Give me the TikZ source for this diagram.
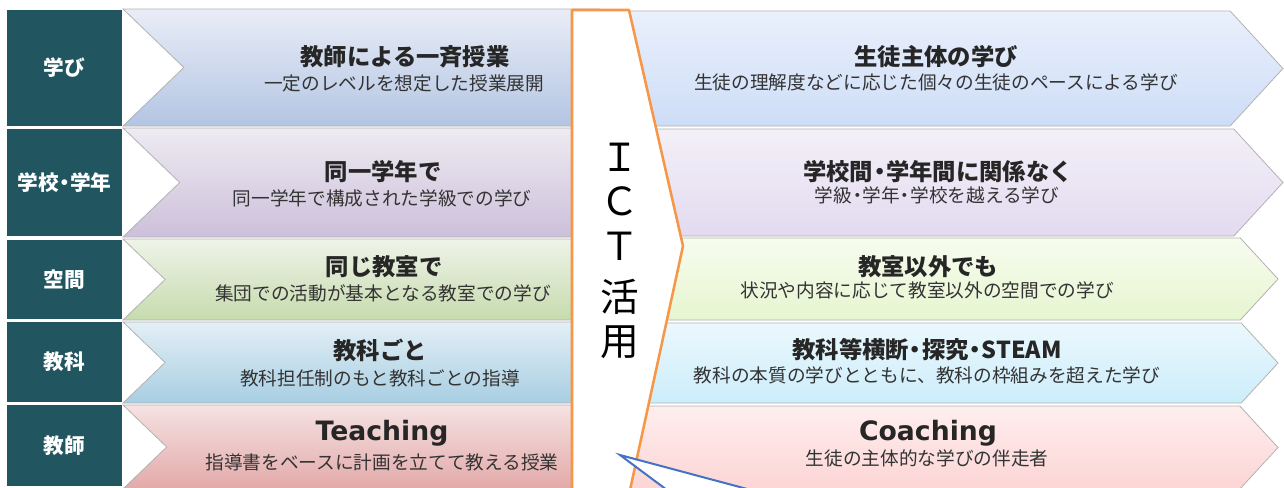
\documentclass[tikz,border=0pt]{standalone}
\usepackage{fontspec}
\usepackage{tikz}
\setmainfont{Noto Sans CJK JP}
\newfontfamily\latinfont{DejaVu Sans}
\newcommand{\nakadot}{\kern-0.22em・\kern-0.22em}
\definecolor{labelteal}{RGB}{33,86,97}
\definecolor{ictorange}{RGB}{247,150,70}
\definecolor{tailblue}{RGB}{68,114,196}
\definecolor{lonetop}{RGB}{233,237,247}
\definecolor{lonebot}{RGB}{179,197,227}
\definecolor{ltwotop}{RGB}{238,235,242}
\definecolor{ltwobot}{RGB}{204,192,218}
\definecolor{lthreetop}{RGB}{239,243,232}
\definecolor{lthreebot}{RGB}{198,219,174}
\definecolor{lfourtop}{RGB}{227,239,246}
\definecolor{lfourbot}{RGB}{168,206,226}
\definecolor{lfivetop}{RGB}{245,226,226}
\definecolor{lfivebot}{RGB}{227,169,169}
\definecolor{ronetop}{RGB}{234,240,252}
\definecolor{ronebot}{RGB}{205,221,247}
\definecolor{rtwotop}{RGB}{243,240,248}
\definecolor{rtwobot}{RGB}{227,218,240}
\definecolor{rthreetop}{RGB}{247,252,238}
\definecolor{rthreebot}{RGB}{230,245,208}
\definecolor{rfourtop}{RGB}{235,248,253}
\definecolor{rfourbot}{RGB}{204,237,251}
\definecolor{rfivetop}{RGB}{254,238,238}
\definecolor{rfivebot}{RGB}{253,213,213}
\tikzstyle{rowbox}=[fill=labelteal, text=white, inner sep=0pt, minimum width=86.25pt, font=\fontsize{15.5}{18}\selectfont\bfseries]
\tikzstyle{chevron}=[draw=black!30, line width=0.6pt]
\tikzstyle{headtext}=[text=black!85, inner sep=0pt, font=\fontsize{17.5}{20}\selectfont\bfseries]
\tikzstyle{latinhead}=[text=black!85, inner sep=0pt, font=\fontsize{20}{22}\selectfont\latinfont\bfseries]
\tikzstyle{subtext}=[text=black!80, inner sep=0pt, font=\fontsize{14}{16}\selectfont]
\tikzstyle{ictchar}=[text=black, inner sep=0pt, font=\fontsize{29}{30}\selectfont]

\begin{document}
\begin{tikzpicture}[x=0.75pt, y=-0.75pt]
		   \useasboundingbox (0,0) rectangle (1284,487);
		   \begin{scope}
			   \node (lab1) at (64.5, 68)[rowbox, minimum height=87pt] {学び};
			   \node (lab2) at (64.5, 182.5)[rowbox, minimum height=80.25pt] {学校\nakadot 学年};
			   \node (lab3) at (64.5, 279.5)[rowbox, minimum height=59.25pt] {空間};
			   \node (lab4) at (64.5, 362)[rowbox, minimum height=60pt] {教科};
			   \node (lab5) at (64.5, 445.5)[rowbox, minimum height=60.75pt] {教師};
		   \end{scope}
		   \begin{scope}
			   \foreach \t/\b/\tc/\bc in {9/126/lonetop/lonebot, 128/237/ltwotop/ltwobot, 239/320/lthreetop/lthreebot, 322/403/lfourtop/lfourbot, 405/489/lfivetop/lfivebot}
				   \path[chevron, top color=\tc, bottom color=\bc] (123,\t) -- ({123+0.52*(\b-\t)},{(\t+\b)/2}) -- (123,\b) -- (600,\b) -- (600,\t) -- cycle;
			   \foreach \t/\b/\tip/\tc/\bc in {11/126/1283/ronetop/ronebot, 129/236/1283/rtwotop/rtwobot, 238/320/1278/rthreetop/rthreebot, 323/403/1278/rfourtop/rfourbot, 406/489/1278/rfivetop/rfivebot}
				   \path[chevron, top color=\tc, bottom color=\bc] (600,\t) -- ({\tip-0.46*(\b-\t)},\t) -- (\tip,{(\t+\b)/2}) -- ({\tip-0.46*(\b-\t)},\b) -- (600,\b) -- cycle;
		   \end{scope}
		   \begin{scope}
			   \node (lt1) at (405, 57)[headtext] {教師による一斉授業};
			   \node (ls1) at (404, 83)[subtext] {一定のレベルを想定した授業展開};
			   \node (lt2) at (383, 172)[headtext] {同一学年で};
			   \node (ls2) at (382, 198)[subtext] {同一学年で構成された学級での学び};
			   \node (lt3) at (384, 267)[headtext] {同じ教室で};
			   \node (ls3) at (383, 293)[subtext] {集団での活動が基本となる教室での学び};
			   \node (lt4) at (380, 350)[headtext] {教科ごと};
			   \node (ls4) at (380, 378)[subtext] {教科担任制のもと教科ごとの指導};
			   \node (lt5) at (382, 433)[latinhead] {Teaching};
			   \node (ls5) at (382, 462)[subtext] {指導書をベースに計画を立てて教える授業};

			   \node (rt1) at (936, 57)[headtext] {生徒主体の学び};
			   \node (rs1) at (936, 82)[subtext] {生徒の理解度などに応じた個々の生徒のペースによる学び};
			   \node (rt2) at (938, 172)[headtext] {学校間\nakadot 学年間に関係なく};
			   \node (rs2) at (937, 195)[subtext] {学級\nakadot 学年\nakadot 学校を越える学び};
			   \node (rt3) at (928, 267)[headtext] {教室以外でも};
			   \node (rs3) at (927, 290)[subtext] {状況や内容に応じて教室以外の空間での学び};
			   \node (rt4) at (927, 350)[headtext] {教科等横断\nakadot 探究\nakadot STEAM};
			   \node (rs4) at (927, 375)[subtext] {教科の本質の学びとともに、教科の枠組みを超えた学び};
			   \node (rt5) at (928, 433)[latinhead] {Coaching};
			   \node (rs5) at (927, 458)[subtext] {生徒の主体的な学びの伴走者};
		   \end{scope}
		   \begin{scope}
			   \path[fill=white] (572,490) -- (572,10) -- (629,10) -- (683,246) -- (630,490) -- cycle;
			   \draw[ictorange, line width=1.9pt, line join=round] (572,490) -- (572,10) -- (629,10) -- (683,246) -- (630,490);
			   \foreach \ch/\y/\n in {Ｉ/157/i, Ｃ/201/c, Ｔ/246/t, 活/297/k, 用/342/y}
				   \node (ict\n) at (620,\y)[ictchar] {\ch};
			   \coordinate (tail) at (620,455);
			   \draw[tailblue, fill=white, line width=1.5pt, line join=miter] (667,490) -- (tail) -- (751,490);
		   \end{scope}
\end{tikzpicture}
\end{document}
